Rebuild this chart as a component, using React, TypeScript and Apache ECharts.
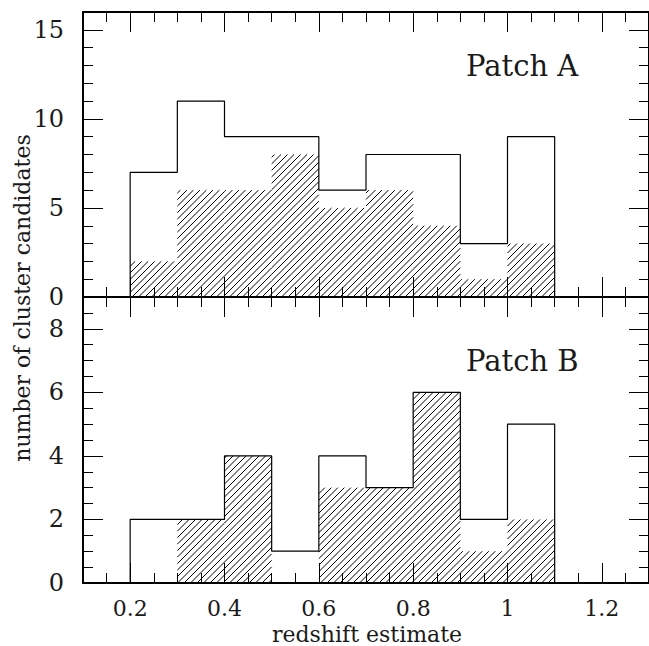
import React, { useEffect, useRef } from 'react';
import * as echarts from 'echarts';

// ---- data ----
const binEdges = [0.2, 0.3, 0.4, 0.5, 0.6, 0.7, 0.8, 0.9, 1.0, 1.1];
const patchATotal = [7, 11, 9, 9, 6, 8, 8, 3, 9];
const patchAHatched = [2, 6, 6, 8, 5, 6, 4, 1, 3];
const patchBTotal = [2, 2, 4, 1, 4, 3, 6, 2, 5];
const patchBHatched = [0, 2, 4, 0, 3, 3, 6, 1, 2];
const xTickValues = [0.2, 0.4, 0.6, 0.8, 1.0, 1.2];
const yTicksA = [0, 5, 10, 15];
const yTicksB = [0, 2, 4, 6, 8];
const panelLabels = ['Patch A', 'Patch B'];
const xTitle = 'redshift estimate';
const yTitle = 'number of cluster candidates';

const FONT = 'DejaVu Serif';
const INK = '#1a1a1a';

function stepOutline(values: number[]) {
  const pts: number[][] = [[binEdges[0], 0]];
  values.forEach((v, i) => {
    pts.push([binEdges[i], v]);
    pts.push([binEdges[i + 1], v]);
  });
  pts.push([binEdges[binEdges.length - 1], 0]);
  return pts;
}

function binData(values: number[]) {
  return values.map((v, i) => [binEdges[i], binEdges[i + 1], v]);
}

const HATCH = 6.5;
function hatchRender(params: any, api: any) {
  const v = api.value(2);
  if (!v) return null;
  const p0 = api.coord([api.value(0), v]);
  const p1 = api.coord([api.value(1), 0]);
  const x0 = p0[0], yt = p0[1], x1 = p1[0], yb = p1[1];
  const children: any[] = [];
  const kStart = Math.ceil((x0 + yt) / HATCH);
  const kEnd = Math.floor((x1 + yb) / HATCH);
  for (let k = kStart; k <= kEnd; k++) {
    const c = k * HATCH;
    const a = Math.max(x0, c - yb);
    const b = Math.min(x1, c - yt);
    if (b > a) {
      children.push({
        type: 'line',
        shape: { x1: a, y1: c - a, x2: b, y2: c - b },
        style: { stroke: '#000', lineWidth: 1 },
      });
    }
  }
  return { type: 'group', children };
}

const tickStyle = { color: '#000', width: 1 };
const frameStyle = { color: '#000', width: 2 };

function makeXAxes(gridIndex: number, showLabels: boolean) {
  const base: any = {
    type: 'value',
    gridIndex,
    min: 0.1,
    max: 1.3,
    splitLine: { show: false },
    axisLabel: { show: false },
  };
  const minor = (position: string) => ({
    ...base,
    position,
    interval: 0.05,
    axisLine: { show: true, onZero: false, lineStyle: frameStyle },
    axisTick: { show: true, inside: true, length: 10, lineStyle: tickStyle },
  });
  const major = (position: string, labels: boolean) => ({
    ...base,
    position,
    axisLine: { show: false, onZero: false },
    axisTick: { show: true, inside: true, length: 20, customValues: xTickValues, lineStyle: tickStyle },
    axisLabel: {
      show: labels,
      customValues: xTickValues,
      margin: 14,
      fontSize: 22,
      fontFamily: FONT,
      color: INK,
      formatter: (val: number) => String(Math.round(val * 10) / 10),
    },
  });
  return [minor('bottom'), major('bottom', showLabels), minor('top'), major('top', false)];
}

function makeYAxes(gridIndex: number, max: number, minorInterval: number, majorTicks: number[]) {
  const base: any = {
    type: 'value',
    gridIndex,
    min: 0,
    max,
    splitLine: { show: false },
    axisLabel: { show: false },
  };
  const minor = (position: string) => ({
    ...base,
    position,
    interval: minorInterval,
    axisLine: { show: true, onZero: false, lineStyle: frameStyle },
    axisTick: { show: true, inside: true, length: 10, lineStyle: tickStyle },
  });
  const major = (position: string, labels: boolean) => ({
    ...base,
    position,
    axisLine: { show: false, onZero: false },
    axisTick: { show: true, inside: true, length: 20, customValues: majorTicks, lineStyle: tickStyle },
    axisLabel: {
      show: labels,
      customValues: majorTicks,
      margin: 19,
      fontSize: 24,
      fontFamily: FONT,
      color: INK,
    },
  });
  return [minor('left'), major('left', true), minor('right'), major('right', false)];
}

export default function App() {
  const ref = useRef<HTMLDivElement>(null);
  useEffect(() => {
    if (!ref.current) return;
    const chart = echarts.init(ref.current, undefined, { renderer: 'svg' });
    const option: any = {
      animation: false,
      backgroundColor: '#fff',
      grid: [
        { left: 83, top: 12, width: 572, height: 285 },
        { left: 83, top: 297, width: 572, height: 286 },
      ],
      xAxis: [...makeXAxes(0, false), ...makeXAxes(1, true)],
      yAxis: [...makeYAxes(0, 16, 1, yTicksA), ...makeYAxes(1, 9, 0.5, yTicksB)],
      series: [
        {
          type: 'custom',
          xAxisIndex: 0,
          yAxisIndex: 0,
          data: binData(patchAHatched),
          encode: { x: [0, 1], y: 2 },
          renderItem: hatchRender,
          silent: true,
          z: 1,
        },
        {
          type: 'line',
          xAxisIndex: 0,
          yAxisIndex: 0,
          data: stepOutline(patchATotal),
          symbol: 'none',
          lineStyle: { color: '#000', width: 1.2 },
          silent: true,
          z: 2,
        },
        {
          type: 'custom',
          xAxisIndex: 4,
          yAxisIndex: 4,
          data: binData(patchBHatched),
          encode: { x: [0, 1], y: 2 },
          renderItem: hatchRender,
          silent: true,
          z: 1,
        },
        {
          type: 'line',
          xAxisIndex: 4,
          yAxisIndex: 4,
          data: stepOutline(patchBTotal),
          symbol: 'none',
          lineStyle: { color: '#000', width: 1.2 },
          silent: true,
          z: 2,
        },
      ],
      graphic: [
        {
          type: 'text',
          x: 466,
          y: 66,
          style: { text: panelLabels[0], fontSize: 29, fontFamily: FONT, fill: INK, textAlign: 'left', textVerticalAlign: 'middle' },
        },
        {
          type: 'text',
          x: 466,
          y: 361,
          style: { text: panelLabels[1], fontSize: 29, fontFamily: FONT, fill: INK, textAlign: 'left', textVerticalAlign: 'middle' },
        },
        {
          type: 'text',
          x: 367,
          y: 634,
          style: { text: xTitle, fontSize: 22, fontFamily: FONT, fill: INK, textAlign: 'center', textVerticalAlign: 'middle' },
        },
        {
          type: 'text',
          x: 22,
          y: 298,
          rotation: Math.PI / 2,
          style: { text: yTitle, fontSize: 22, fontFamily: FONT, fill: INK, textAlign: 'center', textVerticalAlign: 'middle' },
        },
      ],
    };
    chart.setOption(option);
    return () => chart.dispose();
  }, []);
  return (
    <div
      ref={ref}
      style={{ position: 'absolute', left: 0, top: 0, width: 649, height: 646, background: '#fff' }}
    />
  );
}
